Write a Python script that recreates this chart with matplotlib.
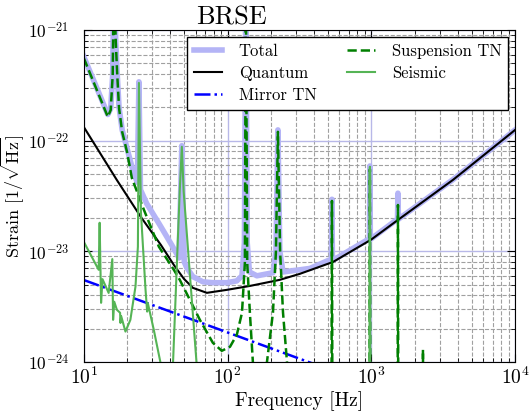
import numpy as np
import matplotlib.pyplot as plt

plt.rcParams.update({
    'font.family': 'serif',
    'font.serif': ['cmr10'],
    'mathtext.fontset': 'cm',
    'axes.formatter.use_mathtext': True,
    'axes.unicode_minus': False,
})

# Axis ticks
x_ticks = [1e1, 1e2, 1e3, 1e4]
y_ticks = [1e-24, 1e-23, 1e-22, 1e-21]

# Total noise
f_total = [10, 14.7, 15.4, 15.9, 16.2, 16.7, 17.1, 17.6, 18.5, 20.0, 22.3, 23.6, 24.2, 24.8,
           27.4, 33.8, 40.9, 46.0, 48.1, 50.0, 52.1, 57.4, 67.3, 79, 99, 116, 126, 131, 134,
           137, 142, 160, 207, 217, 224, 231, 243, 318, 374, 528, 532, 536, 541, 970, 977,
           984, 1000, 1520, 1531, 1542, 3700, 10000]
total = [5.75e-22, 1.72e-22, 1.95e-22, 3.95e-22, 3e-21, 7.8e-22, 3.95e-22, 2.0e-22, 1.25e-22,
         8.5e-23, 5.0e-23, 4.2e-23, 3.4e-22, 3.6e-23, 2.7e-23, 1.73e-23, 1.14e-23, 8.7e-24,
         9e-23, 8.0e-24, 7.1e-24, 5.9e-24, 5.3e-24, 5.2e-24, 5.2e-24, 5.4e-24, 6.0e-24,
         1.2e-23, 3e-21, 1.2e-23, 6.5e-24, 6.0e-24, 6.4e-24, 1.0e-23, 1.25e-22, 1.0e-23,
         6.5e-24, 6.8e-24, 7.0e-24, 8.5e-24, 2.95e-23, 8.5e-24, 8.3e-24, 1.3e-23, 5.9e-23,
         1.3e-23, 1.3e-23, 1.95e-23, 3.35e-23, 1.95e-23, 4.45e-23, 1.25e-22]

# Quantum noise
f_quantum = [10, 17.0, 24.9, 34.4, 42.3, 49.7, 57.4, 71.8, 98.9, 143, 231, 318, 541, 993,
             1531, 3698, 10000]
quantum = [1.33e-22, 4.4e-23, 2.05e-23, 1.14e-23, 7.53e-24, 5.64e-24, 4.67e-24, 4.21e-24,
           4.48e-24, 4.86e-24, 5.52e-24, 6.25e-24, 8.0e-24, 1.27e-23, 1.92e-23, 4.42e-23,
           1.25e-22]

# Mirror thermal noise
f_mirror = [10, 1000]
mirror = [5.5e-24, 6.2e-25]

# Suspension thermal noise
f_susp = [10, 14.7, 15.4, 15.9, 16.2, 16.7, 17.1, 17.6, 18.5, 20.0, 21.6, 26.2, 33.3, 42.3,
          46.6, 54.7, 64.2, 79.0, 91.2, 104, 116, 126, 132, 134, 137, 143, 150, 165, 188,
          207, 217, 224, 232, 243, 259, 300, 520, 529, 532, 535, 545, 960, 972, 977, 982,
          995, 1510, 1525, 1531, 1537, 1550, 2270, 2282, 2285, 2288, 2300, 10000]
susp = [5.58e-22, 1.64e-22, 1.89e-22, 3.92e-22, 3e-21, 7.8e-22, 3.92e-22, 1.97e-22, 1.2e-22,
        7.9e-23, 4.6e-23, 2.37e-23, 1.1e-23, 6.8e-24, 5.5e-24, 3.64e-24, 2.4e-24, 1.49e-24,
        1.26e-24, 1.37e-24, 1.76e-24, 2.78e-24, 7.85e-24, 3e-21, 7.85e-24, 2.78e-24, 1.0e-24,
        6e-25, 1.0e-24, 2.8e-24, 1.0e-23, 1.2e-22, 1.0e-23, 2.8e-24, 1.0e-24, 4e-25, 4e-25,
        1e-24, 2.85e-23, 1e-24, 4e-25, 4e-25, 1e-24, 5.5e-23, 1e-24, 4e-25, 4e-25, 1e-24,
        2.62e-23, 1e-24, 4e-25, 4e-25, 8e-25, 1.29e-24, 8e-25, 4e-25, 4e-25]

# Seismic noise
f_seis = [10, 12.7, 12.9, 13.2, 13.5, 14.9, 15.8, 16.0, 16.3, 17.0, 17.9, 18.0, 18.2, 19.5,
          21.1, 22.9, 23.8, 24.2, 25.0, 26.9, 27.6, 27.9, 30.7, 34.2, 38, 41.8, 46.5, 48.1,
          49.5, 60.8, 70, 960, 972, 977, 982, 995, 10000]
seis = [1.22e-23, 6.8e-24, 1.81e-23, 3.42e-24, 5.6e-24, 4.2e-24, 8.5e-24, 2.4e-24, 3.5e-24,
        2.96e-24, 2.78e-24, 2.25e-24, 2.6e-24, 1.88e-24, 2.4e-24, 4.8e-24, 1.1e-23, 3.32e-22,
        2.22e-23, 4.48e-24, 2.85e-24, 3.4e-24, 1.95e-24, 9.8e-25, 5e-25, 1e-24, 3.5e-23,
        8.8e-23, 3.5e-23, 1e-24, 4e-25, 4e-25, 1e-24, 5.8e-23, 1e-24, 4e-25, 4e-25]

fig, ax = plt.subplots(figsize=(5.3, 4.16), dpi=100)
fig.subplots_adjust(left=0.158, right=0.972, bottom=0.130, top=0.928)

ax.loglog(f_total, total, color='#b4b4f6', lw=4, label='Total')
ax.loglog(f_quantum, quantum, color='black', lw=1.5, label='Quantum')
ax.loglog(f_mirror, mirror, color='blue', lw=1.8, ls='-.', label='Mirror TN')
ax.loglog(f_susp, susp, color='#007f00', lw=1.8, ls='--', label='Suspension TN')
ax.loglog(f_seis, seis, color='#55b455', lw=1.5, label='Seismic')

ax.set_xticks(x_ticks)
ax.set_yticks(y_ticks)
ax.set_xlim(10, 1e4)
ax.set_ylim(1e-24, 1e-21)
ax.grid(which='major', color='#b8b8e8', ls='-', lw=1)
ax.grid(which='minor', color='#a0a0a0', ls='--', lw=0.8)
ax.tick_params(which='both', direction='in', top=True, right=True)
ax.tick_params(axis='x', labelsize=14)
ax.tick_params(axis='y', which='major', labelsize=12.5, pad=10.5)
ax.tick_params(which='major', length=6)
ax.tick_params(which='minor', length=3)

ax.set_title('BRSE', fontsize=19, pad=3, x=0.343)
ax.set_xlabel('Frequency [Hz]', fontsize=14, labelpad=2)
ax.set_ylabel(r'Strain [1/$\sqrt{\rm Hz}$]', fontsize=13)
ax.yaxis.set_label_coords(-0.133, 0.5)

leg = ax.legend(ncol=2, loc='upper right', bbox_to_anchor=(0.984, 0.979), borderaxespad=0,
                fontsize=12, fancybox=False, framealpha=1, edgecolor='black',
                handlelength=1.7, handletextpad=1.0, columnspacing=1.8, labelspacing=0.4)
leg.get_frame().set_linewidth(1.0)

plt.savefig('out.png', dpi=100)
